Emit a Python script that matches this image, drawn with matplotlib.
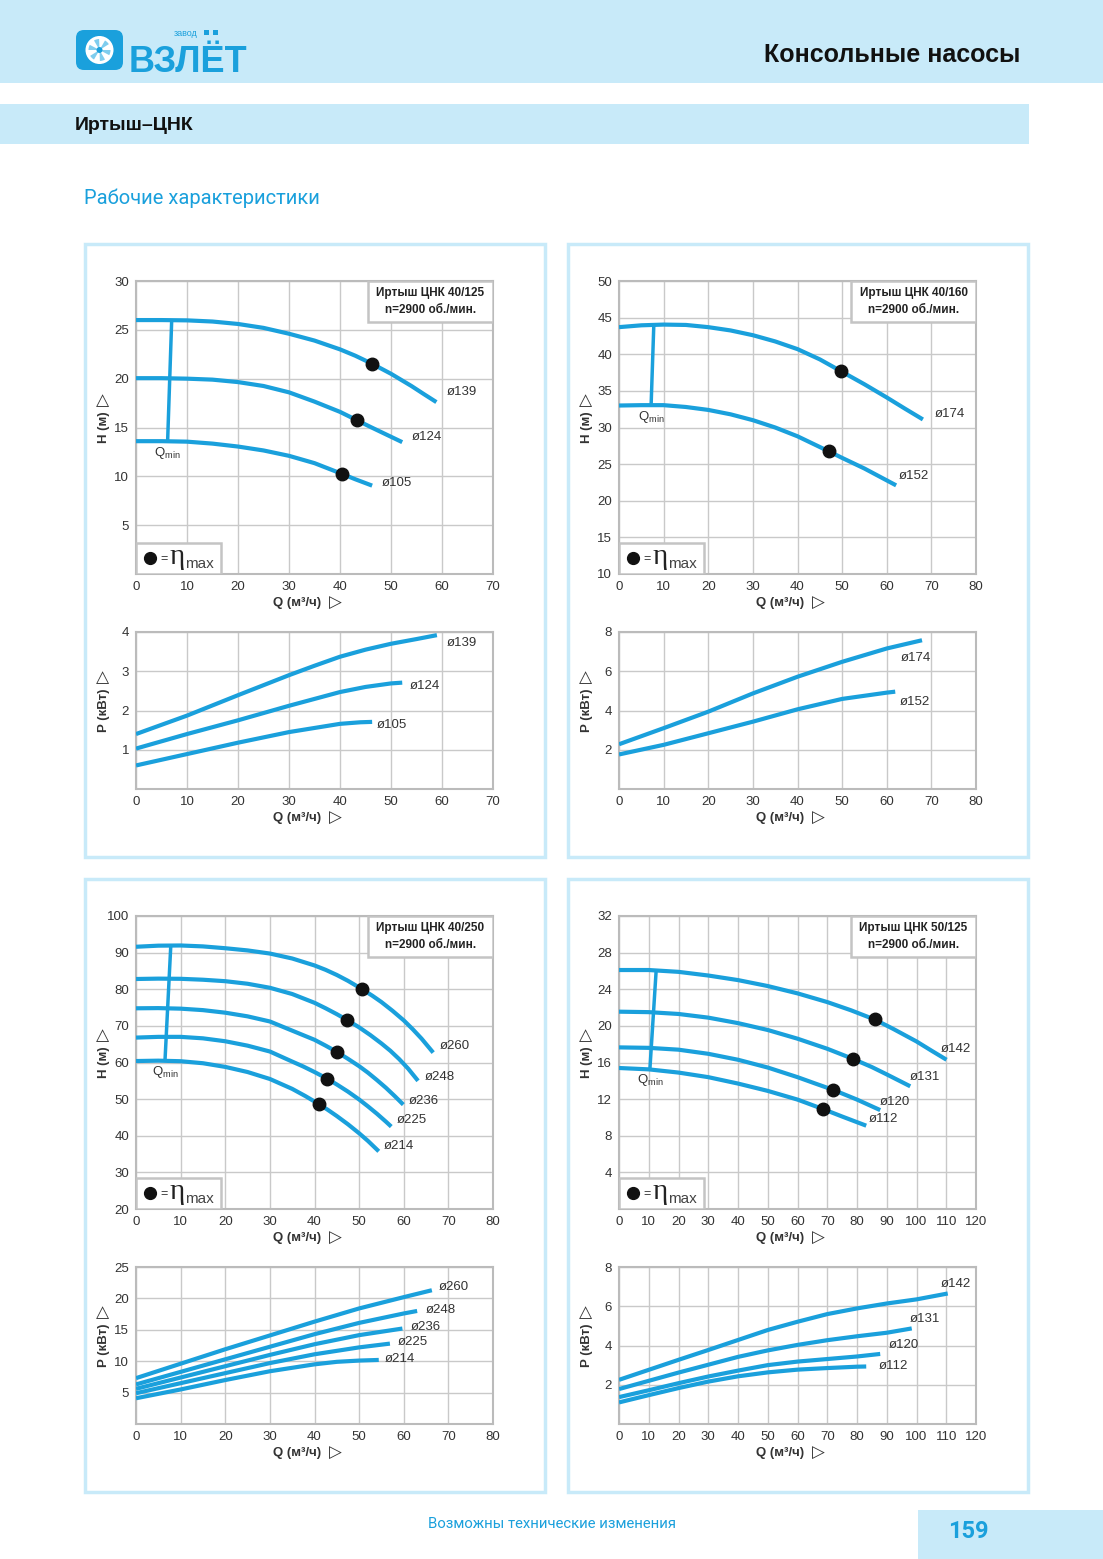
import matplotlib
matplotlib.use("Agg")
import matplotlib.pyplot as plt
from matplotlib import font_manager
from matplotlib.patches import Rectangle, FancyBboxPatch, Circle, Wedge

# --- data: Иртыш ЦНК 40/125 ---
c1_names = ["ø139", "ø124", "ø105"]
c1_hq = [[0, 5, 10, 15, 20, 25, 30, 35, 40, 43, 46.2, 50, 54, 56.5, 58.9],
         [0, 5, 10, 15, 20, 25, 30, 35, 40, 43.3, 46, 49, 52.2],
         [0, 5, 10, 15, 20, 25, 30, 35, 40.4, 43, 46.3]]
c1_h = [[26.0, 26.0, 25.97, 25.85, 25.6, 25.2, 24.6, 23.9, 23.0, 22.35, 21.55, 20.5, 19.25, 18.4, 17.6],
        [20.05, 20.05, 20.0, 19.9, 19.65, 19.25, 18.6, 17.65, 16.6, 15.75, 15.05, 14.3, 13.5],
        [13.6, 13.6, 13.55, 13.35, 13.05, 12.65, 12.1, 11.35, 10.25, 9.7, 9.05]]
c1_eta_q = [46.2, 43.3, 40.4]
c1_eta_h = [21.55, 15.75, 10.25]
c1_qmin_q = [7.0, 6.2]
c1_qmin_h = [26.0, 13.6]
c1_hlab_q = [61.0, 54.1, 48.1]
c1_hlab_h = [18.6, 14.0, 9.3]
c1_pq = [[0, 10, 20, 30, 35, 40, 45, 50, 55, 59],
         [0, 10, 20, 30, 40, 45, 50, 52.2],
         [0, 10, 20, 30, 40, 44, 46.3]]
c1_p = [[1.4, 1.87, 2.39, 2.9, 3.14, 3.37, 3.55, 3.70, 3.82, 3.92],
        [1.03, 1.40, 1.75, 2.12, 2.47, 2.60, 2.69, 2.71],
        [0.6, 0.89, 1.18, 1.45, 1.66, 1.70, 1.71]]
c1_plab_q = [61.0, 53.7, 47.3]
c1_plab_p = [3.73, 2.63, 1.63]

# --- data: Иртыш ЦНК 40/160 ---
c2_names = ["ø174", "ø152"]
c2_hq = [[0, 5, 10, 15, 20, 25, 30, 35, 40, 45, 49.85, 55, 60, 64, 68.1],
         [0, 5, 10, 15, 20, 25, 30, 35, 40, 47, 50, 55, 62.1]]
c2_h = [[43.7, 43.95, 44.05, 44.0, 43.7, 43.25, 42.6, 41.75, 40.7, 39.3, 37.65, 35.9, 34.1, 32.6, 31.1],
        [33.0, 33.05, 33.05, 32.8, 32.4, 31.8, 31.0, 30.0, 28.8, 26.75, 25.85, 24.4, 22.1]]
c2_eta_q = [49.85, 47.0]
c2_eta_h = [37.65, 26.75]
c2_qmin_q = [7.8, 7.2]
c2_qmin_h = [44.0, 33.1]
c2_hlab_q = [70.7, 62.7]
c2_hlab_h = [31.8, 23.4]
c2_pq = [[0, 10, 20, 30, 40, 50, 60, 67.9],
         [0, 10, 20, 30, 40, 50, 60, 61.9]]
c2_p = [[2.28, 3.1, 3.94, 4.87, 5.72, 6.48, 7.16, 7.58],
        [1.76, 2.25, 2.84, 3.43, 4.06, 4.59, 4.91, 4.96]]
c2_plab_q = [63.2, 63.0]
c2_plab_p = [6.7, 4.42]

# --- data: Иртыш ЦНК 40/250 ---
c3_names = ["ø260", "ø248", "ø236", "ø225", "ø214"]
c3_hq = [[0, 5, 10, 15, 20, 25, 30, 35, 40, 42.5, 45, 47.5, 50.7, 53, 55, 57.5, 60, 62, 64, 66.6],
         [0, 5, 10, 15, 20, 25, 30, 35, 40, 42.5, 45, 47.3, 50, 52.5, 55, 57, 59, 61, 63.2],
         [0, 5, 10, 15, 20, 25, 30, 35, 40, 42.5, 45, 47.5, 50, 52, 54, 56, 58, 59.9],
         [0, 5, 10, 15, 20, 25, 30, 35, 37.5, 40, 42.8, 45, 47.5, 50, 52, 54, 56, 57.2],
         [0, 5, 10, 15, 20, 25, 30, 35, 38, 40.9, 43, 45, 47.5, 50, 52, 54.4]]
c3_h = [[91.6, 91.9, 91.95, 91.7, 91.2, 90.6, 89.75, 88.4, 86.5, 85.3, 83.9, 82.3, 80.0, 78.2, 76.5, 74.1, 71.5, 69.1, 66.5, 62.7],
        [82.8, 82.9, 82.85, 82.6, 82.2, 81.5, 80.4, 78.7, 76.3, 74.8, 73.2, 71.6, 69.6, 67.5, 65.2, 63.2, 60.9, 58.3, 55.0],
        [74.8, 74.85, 74.7, 74.3, 73.6, 72.6, 71.2, 68.7, 66.2, 64.6, 62.9, 61.0, 59.0, 57.2, 55.2, 53.1, 50.8, 48.5],
        [66.8, 67.0, 67.0, 66.6, 65.8, 64.6, 63.0, 60.25, 58.9, 57.4, 55.6, 54.0, 52.05, 49.9, 48.0, 46.0, 43.85, 42.5],
        [60.4, 60.5, 60.35, 59.8, 58.8, 57.4, 55.5, 52.8, 50.8, 48.7, 47.06, 45.38, 43.13, 40.68, 38.56, 35.75]]
c3_eta_q = [50.7, 47.3, 45.0, 42.8, 40.9]
c3_eta_h = [80.0, 71.6, 62.9, 55.6, 48.7]
c3_qmin_q = [7.8, 6.5]
c3_qmin_h = [92.0, 60.6]
c3_hlab_q = [68.1, 64.7, 61.2, 58.5, 55.5]
c3_hlab_h = [64.6, 56.1, 49.6, 44.2, 37.3]
c3_pq = [[0, 10, 20, 30, 40, 50, 60, 66.3],
         [0, 10, 20, 30, 40, 50, 60, 63],
         [0, 10, 20, 30, 40, 50, 59.7],
         [0, 10, 20, 30, 40, 50, 56.9],
         [0, 10, 20, 30, 40, 45, 50, 54.4]]
c3_p = [[7.3, 9.6, 11.9, 14.1, 16.3, 18.4, 20.2, 21.3],
        [6.3, 8.3, 10.3, 12.3, 14.3, 16.1, 17.6, 18.0],
        [5.6, 7.4, 9.2, 11.0, 12.7, 14.15, 15.2],
        [4.9, 6.5, 8.1, 9.7, 11.1, 12.2, 12.8],
        [4.1, 5.5, 7.0, 8.4, 9.5, 9.9, 10.1, 10.2]]
c3_plab_q = [67.8, 64.9, 61.6, 58.6, 55.7]
c3_plab_p = [21.8, 18.2, 15.4, 13.0, 10.3]

# --- data: Иртыш ЦНК 50/125 ---
c4_names = ["ø142", "ø131", "ø120", "ø112"]
c4_hq = [[0, 10, 20, 30, 40, 50, 60, 70, 78, 85.9, 92, 100, 105, 110.1],
         [0, 10, 20, 30, 40, 50, 60, 70, 78.6, 85, 90, 97.9],
         [0, 10, 20, 30, 40, 50, 60, 66, 72.1, 80, 87.8],
         [0, 10, 20, 30, 40, 50, 60, 68.7, 75, 83.1]]
c4_h = [[26.1, 26.1, 25.9, 25.5, 25.0, 24.35, 23.55, 22.6, 21.7, 20.7, 19.7, 18.3, 17.3, 16.3],
        [21.55, 21.5, 21.3, 20.9, 20.3, 19.55, 18.6, 17.5, 16.4, 15.5, 14.7, 13.4],
        [17.65, 17.6, 17.4, 16.95, 16.3, 15.45, 14.4, 13.7, 13.0, 11.95, 10.8],
        [15.4, 15.25, 14.9, 14.4, 13.7, 12.9, 11.95, 10.9, 10.1, 9.1]]
c4_eta_q = [85.9, 78.6, 72.1, 68.7]
c4_eta_h = [20.7, 16.4, 13.0, 10.9]
c4_qmin_q = [12.5, 10.4]
c4_qmin_h = [26.1, 15.35]
c4_hlab_q = [108.0, 97.9, 87.5, 84.0]
c4_hlab_h = [17.5, 14.4, 11.7, 9.8]
c4_pq = [[0, 10, 20, 30, 40, 50, 60, 70, 80, 90, 100, 110.5],
         [0, 10, 20, 30, 40, 50, 60, 70, 80, 90, 98.4],
         [0, 10, 20, 30, 40, 50, 60, 70, 80, 87.8],
         [0, 10, 20, 30, 40, 50, 60, 70, 80, 83.1]]
c4_p = [[2.25, 2.76, 3.27, 3.77, 4.28, 4.79, 5.21, 5.6, 5.89, 6.14, 6.35, 6.65],
        [1.78, 2.2, 2.62, 3.02, 3.42, 3.75, 4.03, 4.27, 4.47, 4.65, 4.87],
        [1.37, 1.72, 2.08, 2.42, 2.72, 3.0, 3.18, 3.31, 3.44, 3.57],
        [1.1, 1.47, 1.83, 2.16, 2.43, 2.63, 2.77, 2.85, 2.92, 2.93]]
c4_plab_q = [108.2, 97.6, 90.7, 87.3]
c4_plab_p = [7.12, 5.33, 4.0, 2.93]

W, H = 1103, 1559
BAND = "#c8eaf9"
BLUE = "#1aa0dc"
TXT = "#333333"
GRID = "#c9c9c9"

names = {f.name for f in font_manager.fontManager.ttflist}
NARROW = "Liberation Sans Narrow" if "Liberation Sans Narrow" in names else "Liberation Sans"
FAM = ["Liberation Sans", "DejaVu Sans"]

plt.rcParams["font.family"] = FAM
plt.rcParams["mathtext.fontset"] = "custom"
plt.rcParams["mathtext.rm"] = "Liberation Sans"
plt.rcParams["mathtext.it"] = "Liberation Sans:italic"
plt.rcParams["mathtext.bf"] = "Liberation Sans:bold"

fig = plt.figure(figsize=(W / 100, H / 100), dpi=100)

# page background (pixel coordinates)
bg = fig.add_axes([0, 0, 1, 1])
bg.set_xlim(0, W)
bg.set_ylim(H, 0)
bg.axis("off")

bg.add_patch(Rectangle((0, 0), W, 83, fc=BAND, ec="none"))
bg.add_patch(Rectangle((0, 104), 1029, 40, fc=BAND, ec="none"))
bg.add_patch(Rectangle((918, 1510), 185, 49, fc=BAND, ec="none"))
for x0, y0 in [(85, 244), (568, 244), (85, 879), (568, 879)]:
    bg.add_patch(Rectangle((x0, y0), 460, 613, fc="white", ec=BAND, lw=2.5))

# logo
bg.add_patch(FancyBboxPatch((78, 32), 43, 36, boxstyle="round,pad=2,rounding_size=8",
                            fc=BLUE, ec="none"))
bg.add_patch(Circle((99.5, 50), 14, fc="white", ec="none"))
for a in range(0, 360, 60):
    bg.add_patch(Wedge((99.5, 50), 11, a, a + 28, fc="#7fcdee", ec="none"))
bg.add_patch(Circle((99.5, 50), 3, fc=BLUE, ec="none"))
narrow_ok = NARROW != "Liberation Sans"
bg.text(129, 72, "ВЗЛЁТ", fontsize=32 if narrow_ok else 26, fontweight="bold",
        family=NARROW, color=BLUE, ha="left", va="baseline")
bg.text(174, 36, "завод", fontsize=6.5, color=BLUE, ha="left", va="baseline")
bg.add_patch(Rectangle((204, 30), 5, 5, fc=BLUE, ec="none"))
bg.add_patch(Rectangle((213, 30), 5, 5, fc=BLUE, ec="none"))

bg.text(1020, 55, "Консольные насосы", fontsize=18, fontweight="bold",
        color="#111111", ha="right", va="center")
bg.text(75, 125, "Иртыш–ЦНК", fontsize=14, fontweight="bold",
        color="#111111", ha="left", va="center")
bg.text(84, 198, "Рабочие характеристики", fontsize=14.5, family="Roboto",
        color=BLUE, ha="left", va="center")
bg.text(428, 1524, "Возможны технические изменения", fontsize=10.7, family="Roboto",
        color=BLUE, ha="left", va="center")
bg.text(968, 1531, "159", fontsize=17, fontweight="bold", family="Roboto",
        color=BLUE, ha="center", va="center")


def px_rect(x0, y0, x1, y1):
    return [x0 / W, 1 - y1 / H, (x1 - x0) / W, (y1 - y0) / H]


def make_axes(rect, xmax, ylim, yticks, ylabel):
    ax = fig.add_axes(px_rect(*rect))
    ax.set_xlim(0, xmax)
    ax.set_ylim(*ylim)
    ax.set_xticks(range(0, xmax + 1, 10))
    ax.set_yticks(yticks)
    ax.grid(True, color=GRID, lw=1)
    ax.set_axisbelow(True)
    for s in ax.spines.values():
        s.set_color("#bbbbbb")
        s.set_linewidth(1.5)
    ax.tick_params(length=0, pad=5, labelsize=9.5, labelcolor=TXT)
    ax.set_xlabel("Q (м³/ч)", fontsize=9.5, fontweight="bold", color=TXT,
                  labelpad=3, x=0.45)
    ax.set_ylabel(ylabel, fontsize=9.5, fontweight="bold", color=TXT)
    # same x for every y title, whatever the tick label width
    ax.yaxis.set_label_coords(-0.072, 0.5)
    # arrow-like triangles after the axis titles
    ax.annotate("▷", xy=(1, 0.5), xycoords=ax.xaxis.label, xytext=(6, 0),
                textcoords="offset points", fontsize=12, fontweight="bold",
                family="DejaVu Sans", color=TXT, ha="left", va="center")
    ax.annotate("▷", xy=(0.5, 1), xycoords=ax.yaxis.label, xytext=(0, 4),
                textcoords="offset points", fontsize=12, fontweight="bold",
                family="DejaVu Sans", color=TXT, ha="center", va="bottom",
                rotation=90)
    return ax


def draw_h(ax, qs, hs, labels, lab_q, lab_h, eta_q, eta_h, qmin_q, qmin_h, title):
    for q, h in zip(qs, hs):
        ax.plot(q, h, color=BLUE, lw=3, solid_capstyle="butt", zorder=4)
    ax.plot(qmin_q, qmin_h, color=BLUE, lw=2.5, solid_capstyle="butt", zorder=4)
    ax.plot(eta_q, eta_h, "o", color="#111111", ms=9, zorder=5)
    for t, x, y in zip(labels, lab_q, lab_h):
        ax.text(x, y, t, fontsize=9.5, color=TXT, ha="left", va="center", zorder=6)
    dy = (ax.get_ylim()[1] - ax.get_ylim()[0]) * 0.04
    ax.text(qmin_q[1] - 2.6 * ax.get_xlim()[1] / 70, qmin_h[1] - dy, r"Q$_{\rm min}$",
            fontsize=9.5, color=TXT, ha="left", va="center", zorder=6)
    # model box
    ax.add_patch(Rectangle((0.65, 0.86), 0.35, 0.14, transform=ax.transAxes,
                           fc="white", ec="#c4c4c4", lw=1.8, zorder=3))
    ax.text(0.825, 0.93, title + "\nn=2900 об./мин.", transform=ax.transAxes,
            fontsize=8.5, fontweight="bold", color="#222222", ha="center",
            va="center", linespacing=1.45, zorder=6)
    # eta legend box
    ax.add_patch(Rectangle((0, 0), 0.238, 0.106, transform=ax.transAxes,
                           fc="white", ec="#c4c4c4", lw=1.8, zorder=3))
    ax.plot([0.04], [0.055], "o", color="#111111", ms=8.5, transform=ax.transAxes, zorder=6)
    ax.text(0.068, 0.05, "=", fontsize=9, color=TXT, transform=ax.transAxes,
            ha="left", va="center", zorder=6)
    ax.text(0.093, 0.035, "η", fontsize=21, family="Liberation Serif", color="#222222",
            transform=ax.transAxes, ha="left", va="baseline", zorder=6)
    ax.text(0.138, 0.02, "max", fontsize=11, color="#444444", transform=ax.transAxes,
            ha="left", va="baseline", zorder=6)


def draw_p(ax, qs, ps, labels, lab_q, lab_p):
    for q, p in zip(qs, ps):
        ax.plot(q, p, color=BLUE, lw=3, solid_capstyle="butt", zorder=4)
    for t, x, y in zip(labels, lab_q, lab_p):
        ax.text(x, y, t, fontsize=9.5, color=TXT, ha="left", va="center", zorder=6)


# chart 1
ax = make_axes((136, 281, 493, 574), 70, (0, 30), range(5, 31, 5), "H (м)")
draw_h(ax, c1_hq, c1_h, c1_names, c1_hlab_q, c1_hlab_h, c1_eta_q, c1_eta_h,
       c1_qmin_q, c1_qmin_h, "Иртыш ЦНК 40/125")
ax = make_axes((136, 632, 493, 789), 70, (0, 4), range(1, 5), "P (кВт)")
draw_p(ax, c1_pq, c1_p, c1_names, c1_plab_q, c1_plab_p)

# chart 2
ax = make_axes((619, 281, 976, 574), 80, (10, 50), range(10, 51, 5), "H (м)")
draw_h(ax, c2_hq, c2_h, c2_names, c2_hlab_q, c2_hlab_h, c2_eta_q, c2_eta_h,
       c2_qmin_q, c2_qmin_h, "Иртыш ЦНК 40/160")
ax = make_axes((619, 632, 976, 789), 80, (0, 8), range(2, 9, 2), "P (кВт)")
draw_p(ax, c2_pq, c2_p, c2_names, c2_plab_q, c2_plab_p)

# chart 3
ax = make_axes((136, 916, 493, 1209), 80, (20, 100), range(20, 101, 10), "H (м)")
draw_h(ax, c3_hq, c3_h, c3_names, c3_hlab_q, c3_hlab_h, c3_eta_q, c3_eta_h,
       c3_qmin_q, c3_qmin_h, "Иртыш ЦНК 40/250")
ax = make_axes((136, 1267, 493, 1424), 80, (0, 25), range(5, 26, 5), "P (кВт)")
draw_p(ax, c3_pq, c3_p, c3_names, c3_plab_q, c3_plab_p)

# chart 4
ax = make_axes((619, 916, 976, 1209), 120, (0, 32), range(4, 33, 4), "H (м)")
draw_h(ax, c4_hq, c4_h, c4_names, c4_hlab_q, c4_hlab_h, c4_eta_q, c4_eta_h,
       c4_qmin_q, c4_qmin_h, "Иртыш ЦНК 50/125")
ax = make_axes((619, 1267, 976, 1424), 120, (0, 8), range(2, 9, 2), "P (кВт)")
draw_p(ax, c4_pq, c4_p, c4_names, c4_plab_q, c4_plab_p)

fig.savefig("out.png", dpi=100)
